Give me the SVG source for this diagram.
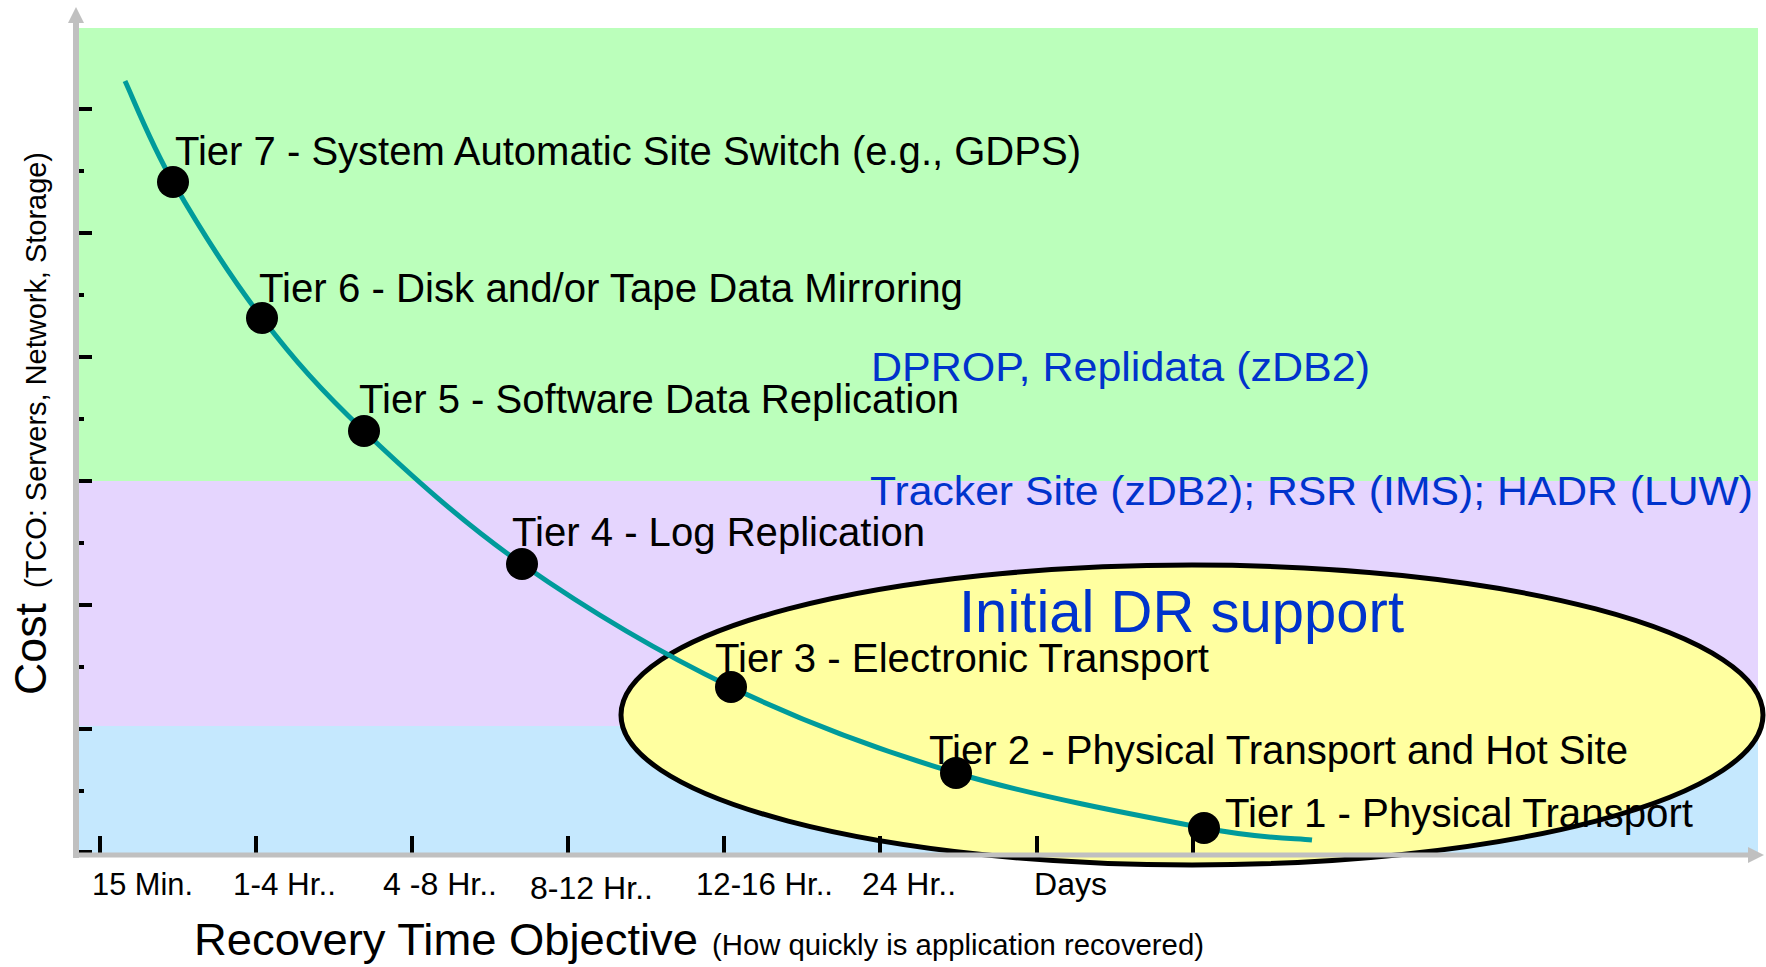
<svg xmlns="http://www.w3.org/2000/svg" width="1766" height="967" viewBox="0 0 1766 967">
<style>
  text { font-family: "Liberation Sans", Arial, sans-serif; }
  .tier { font-size: 40px; fill: #000; }
  .blue { font-size: 41px; fill: #0033cc; }
  .xl { font-size: 31px; fill: #000; }
  .axis { stroke: #c0c0c0; fill: none; }
  .arrow { fill: #c0c0c0; }
  .tick { fill: #000; }
  .dot { fill: #000; }
</style>
<rect width="1766" height="967" fill="#ffffff"/>
<g id="bands">
  <rect x="79" y="28" width="1679" height="453" fill="#bbffbb"/>
  <rect x="79" y="481" width="1679" height="245" fill="#e5d5fe"/>
  <rect x="79" y="726" width="1679" height="127" fill="#c5e8fe"/>
</g>
<g id="initial-dr-support">
  <ellipse cx="1192" cy="715" rx="571" ry="150" fill="#ffffa0" stroke="#000" stroke-width="5"/>
  <text x="959" y="632" font-size="59" fill="#0033cc" textLength="445" lengthAdjust="spacingAndGlyphs">Initial DR support</text>
</g>
<g id="y-ticks">
  <rect class="tick" x="79" y="107" width="13" height="4"/>
  <rect class="tick" x="79" y="169" width="5" height="4"/>
  <rect class="tick" x="79" y="231" width="13" height="4"/>
  <rect class="tick" x="79" y="293" width="5" height="4"/>
  <rect class="tick" x="79" y="355" width="13" height="4"/>
  <rect class="tick" x="79" y="417" width="5" height="4"/>
  <rect class="tick" x="79" y="479" width="13" height="4"/>
  <rect class="tick" x="79" y="541" width="5" height="4"/>
  <rect class="tick" x="79" y="603" width="13" height="4"/>
  <rect class="tick" x="79" y="665" width="5" height="4"/>
  <rect class="tick" x="79" y="727" width="13" height="4"/>
  <rect class="tick" x="79" y="789" width="5" height="4"/>
  <rect class="tick" x="79" y="850" width="13" height="4"/>
</g>
<g id="x-ticks">
  <rect class="tick" x="98" y="836" width="4" height="17"/>
  <rect class="tick" x="254" y="836" width="4" height="17"/>
  <rect class="tick" x="410" y="836" width="4" height="17"/>
  <rect class="tick" x="566" y="836" width="4" height="17"/>
  <rect class="tick" x="722" y="836" width="4" height="17"/>
  <rect class="tick" x="878" y="836" width="4" height="17"/>
  <rect class="tick" x="1035" y="836" width="4" height="17"/>
  <rect class="tick" x="1191" y="836" width="4" height="17"/>
</g>
<g id="axes">
  <line class="axis" x1="76" y1="20" x2="76" y2="858" stroke-width="6"/>
  <polygon class="arrow" points="76,7 68,23 84,23"/>
  <line class="axis" x1="73" y1="855" x2="1750" y2="855" stroke-width="5"/>
  <polygon class="arrow" points="1764,855 1748,847 1748,863"/>
</g>
<g id="connectors">
  <path d="M125,81 C133,97.8 150.2,142.5 173,182 C195.8,221.5 230.2,276.5 262,318 C293.8,359.5 320.7,390 364,431 C407.3,472 460.8,521.3 522,564 C583.2,606.7 658.7,652.2 731,687 C803.3,721.8 877.2,749.5 956,773 C1034.8,796.5 1144.7,816.8 1204,828 C1263.3,839.2 1294,838 1312,840" fill="none" stroke="#009b9b" stroke-width="5"/>
</g>
<g id="tier7">
  <circle class="dot" cx="173" cy="182" r="16"/>
  <text class="tier" x="175" y="165" textLength="906" lengthAdjust="spacingAndGlyphs">Tier 7 - System Automatic Site Switch (e.g., GDPS)</text>
</g>
<g id="tier6">
  <circle class="dot" cx="262" cy="318" r="16"/>
  <text class="tier" x="259" y="302" textLength="704" lengthAdjust="spacingAndGlyphs">Tier 6 - Disk and/or Tape Data Mirroring</text>
</g>
<g id="tier5">
  <circle class="dot" cx="364" cy="431" r="16"/>
  <text class="tier" x="359" y="413" textLength="600" lengthAdjust="spacingAndGlyphs">Tier 5 - Software Data Replication</text>
</g>
<g id="tier4">
  <circle class="dot" cx="522" cy="564" r="16"/>
  <text class="tier" x="512" y="546" textLength="413" lengthAdjust="spacingAndGlyphs">Tier 4 - Log Replication</text>
</g>
<g id="tier3">
  <circle class="dot" cx="731" cy="687" r="16"/>
  <text class="tier" x="715" y="672" textLength="494" lengthAdjust="spacingAndGlyphs">Tier 3 - Electronic Transport</text>
</g>
<g id="tier2">
  <circle class="dot" cx="956" cy="773" r="16"/>
  <text class="tier" x="929" y="764" textLength="699" lengthAdjust="spacingAndGlyphs">Tier 2 - Physical Transport and Hot Site</text>
</g>
<g id="tier1">
  <circle class="dot" cx="1204" cy="828" r="16"/>
  <text class="tier" x="1225" y="827" textLength="468" lengthAdjust="spacingAndGlyphs">Tier 1 - Physical Transport</text>
</g>
<g id="solutions">
  <text class="blue" x="871" y="381" textLength="499" lengthAdjust="spacingAndGlyphs">DPROP, Replidata (zDB2)</text>
  <text class="blue" x="870" y="505" textLength="883" lengthAdjust="spacingAndGlyphs">Tracker Site (zDB2); RSR (IMS); HADR (LUW)</text>
</g>
<g id="x-labels">
  <text class="xl" x="92" y="895" textLength="101" lengthAdjust="spacingAndGlyphs">15 Min.</text>
  <text class="xl" x="233" y="895" textLength="103" lengthAdjust="spacingAndGlyphs">1-4 Hr..</text>
  <text class="xl" x="383" y="895" textLength="114" lengthAdjust="spacingAndGlyphs">4 -8 Hr..</text>
  <text class="xl" x="530" y="899" textLength="123" lengthAdjust="spacingAndGlyphs">8-12 Hr..</text>
  <text class="xl" x="696" y="895" textLength="137" lengthAdjust="spacingAndGlyphs">12-16 Hr..</text>
  <text class="xl" x="862" y="895" textLength="94" lengthAdjust="spacingAndGlyphs">24 Hr..</text>
  <text class="xl" x="1034" y="895" textLength="73" lengthAdjust="spacingAndGlyphs">Days</text>
</g>
<g id="x-title">
  <text x="194" y="955" font-size="44" fill="#000" textLength="504" lengthAdjust="spacingAndGlyphs">Recovery Time Objective</text>
  <text x="712" y="955" font-size="29" fill="#000" textLength="492" lengthAdjust="spacingAndGlyphs">(How quickly is application recovered)</text>
</g>
<g id="y-title" transform="translate(46,695) rotate(-90)">
  <text x="0" y="0" font-size="45" fill="#000" textLength="92" lengthAdjust="spacingAndGlyphs">Cost</text>
  <text x="107" y="0" font-size="29" fill="#000" textLength="436" lengthAdjust="spacingAndGlyphs">(TCO: Servers, Network, Storage)</text>
</g>
</svg>
